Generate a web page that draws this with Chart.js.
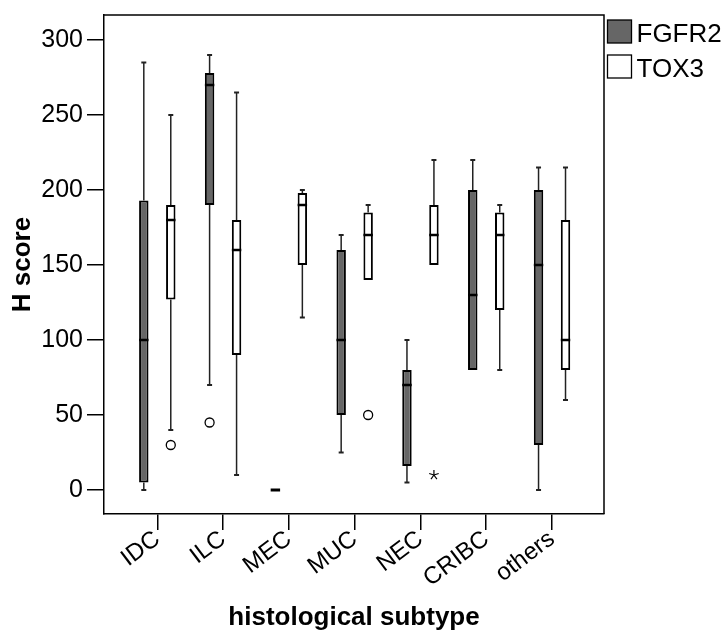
<!DOCTYPE html>
<html>
<head>
<meta charset="utf-8">
<script src="https://cdn.jsdelivr.net/npm/chart.js@4/dist/chart.umd.min.js"></script>
<style>
html,body{margin:0;padding:0;background:#fff;}
#wrap{width:727px;height:633px;position:relative;}
</style>
</head>
<body>
<div id="wrap"><canvas id="c" width="727" height="633"></canvas></div>
<script>
const categories = ['IDC','ILC','MEC','MUC','NEC','CRIBC','others'];
const yTickValues = [0,50,100,150,200,250,300];

const fgfr2Min    = [0,   70,  0,  25,  5,   80,  0];
const fgfr2Q1     = [5,   190, 0,  50,  16,  80,  30];
const fgfr2Median = [100, 270, 0,  100, 70,  130, 150];
const fgfr2Q3     = [193, 278, 0,  160, 80,  200, 200];
const fgfr2Max    = [285, 290, 0,  170, 100, 220, 215];
const fgfr2Outliers = [[], [45], [], [], [], [], []];
const fgfr2Extremes = [[], [], [], [], [], [], []];

const tox3Min    = [40,  10,  115, 140, 150, 80,  60];
const tox3Q1     = [127, 90,  150, 140, 150, 120, 80];
const tox3Median = [180, 160, 190, 170, 170, 170, 100];
const tox3Q3     = [190, 180, 198, 185, 190, 185, 180];
const tox3Max    = [250, 265, 200, 190, 220, 190, 215];
const tox3Outliers = [[30], [], [], [50], [], [], []];
const tox3Extremes = [[], [], [], [], [10], [], []];

const FONT = "'Liberation Sans', Arial, sans-serif";

const series = [
  {label:'FGFR2', min:fgfr2Min, q1:fgfr2Q1, med:fgfr2Median, q3:fgfr2Q3, max:fgfr2Max, out:fgfr2Outliers, ext:fgfr2Extremes, fill:'#666666'},
  {label:'TOX3',  min:tox3Min,  q1:tox3Q1,  med:tox3Median,  q3:tox3Q3,  max:tox3Max,  out:tox3Outliers,  ext:tox3Extremes,  fill:'#ffffff'}
];

const datasets = series.map(s => ({
  label: s.label,
  data: categories.map((c, i) => ({x: i, y: [s.q1[i], s.q3[i]]})),
  backgroundColor: s.fill,
  borderColor: '#000',
  borderWidth: 2,
  borderSkipped: false,
  categoryPercentage: 0.82,
  barPercentage: 0.35
}));

const boxPlugin = {
  id: 'boxExtras',
  afterDatasetsDraw(chart) {
    const ctx = chart.ctx;
    const y = chart.scales.y;
    series.forEach((s, d) => {
      const meta = chart.getDatasetMeta(d);
      meta.data.forEach((el, i) => {
        const x = el.x;
        const w = el.width;
        const py = v => y.getPixelForValue(v);
        ctx.save();
        ctx.strokeStyle = '#222';
        ctx.lineWidth = 1.5;
        if (s.max[i] > s.q3[i]) {
          ctx.beginPath(); ctx.moveTo(x, py(s.q3[i])); ctx.lineTo(x, py(s.max[i])); ctx.stroke();
          ctx.lineWidth = 2;
          ctx.beginPath(); ctx.moveTo(x-2.5, py(s.max[i])); ctx.lineTo(x+2.5, py(s.max[i])); ctx.stroke();
          ctx.lineWidth = 1.5;
        }
        if (s.min[i] < s.q1[i]) {
          ctx.beginPath(); ctx.moveTo(x, py(s.q1[i])); ctx.lineTo(x, py(s.min[i])); ctx.stroke();
          ctx.lineWidth = 2;
          ctx.beginPath(); ctx.moveTo(x-2.5, py(s.min[i])); ctx.lineTo(x+2.5, py(s.min[i])); ctx.stroke();
        }
        ctx.strokeStyle = '#000';
        ctx.lineWidth = (s.q1[i] === s.q3[i]) ? 3 : 2.5;
        ctx.beginPath(); ctx.moveTo(x - w/2, py(s.med[i])); ctx.lineTo(x + w/2, py(s.med[i])); ctx.stroke();
        ctx.lineWidth = 1.3;
        s.out[i].forEach(v => {
          ctx.beginPath(); ctx.arc(x, py(v), 4.5, 0, Math.PI*2);
          ctx.fillStyle = '#fff'; ctx.fill(); ctx.stroke();
        });
        s.ext[i].forEach(v => {
          const cy = py(v), r = 5;
          ctx.lineWidth = 1.2;
          for (let k = 0; k < 5; k++) {
            const a = -Math.PI/2 + k * 2*Math.PI/5;
            ctx.beginPath(); ctx.moveTo(x, cy); ctx.lineTo(x + r*Math.cos(a), cy + r*Math.sin(a)); ctx.stroke();
          }
        });
        ctx.restore();
      });
    });
  },
  afterDraw(chart) {
    const ctx = chart.ctx;
    const a = chart.chartArea;
    ctx.save();
    ctx.strokeStyle = '#000';
    ctx.lineWidth = 1.5;
    ctx.beginPath();
    ctx.moveTo(a.left, a.top); ctx.lineTo(a.right, a.top); ctx.lineTo(a.right, a.bottom);
    ctx.stroke();
    ctx.font = '26px ' + FONT;
    ctx.textBaseline = 'alphabetic';
    ctx.textAlign = 'left';
    series.forEach((s, d) => {
      const top = 20 + d * 35;
      const left = a.right + 3.5;
      ctx.fillStyle = s.fill;
      ctx.fillRect(left, top, 24, 23);
      ctx.strokeStyle = '#000';
      ctx.lineWidth = 1.3;
      ctx.strokeRect(left, top, 24, 23);
      ctx.fillStyle = '#000';
      ctx.fillText(s.label, left + 29, top + 22);
    });
    ctx.restore();
  }
};

new Chart(document.getElementById('c'), {
  type: 'bar',
  data: { datasets },
  options: {
    responsive: false,
    animation: false,
    layout: { padding: { left: 4, right: 123, top: 15, bottom: 0 } },
    plugins: { legend: { display: false }, tooltip: { enabled: false } },
    scales: {
      x: {
        type: 'linear',
        min: -0.81, max: 6.79,
        offset: false,
        afterBuildTicks: sc => { sc.ticks = categories.map((c, i) => ({value: i})); },
        afterFit: sc => { sc.height = 119; sc.paddingLeft = 0; sc.paddingRight = 0; },
        grid: { display: true, offset: false, drawOnChartArea: false, drawTicks: true, tickLength: 16, color: '#000', lineWidth: 1.5 },
        border: { display: true, color: '#000', width: 1.5 },
        ticks: {
          autoSkip: false, maxRotation: 37, minRotation: 37, padding: -5,
          color: '#000', font: { family: FONT, size: 24 },
          callback: v => categories[v]
        },
        title: { display: true, text: 'histological subtype', color: '#000', font: { family: FONT, size: 26, weight: 'bold' }, padding: { top: 0, bottom: 0 } }
      },
      y: {
        min: -16, max: 316.67,
        afterBuildTicks: sc => { sc.ticks = yTickValues.map(v => ({value: v})); },
        afterFit: sc => { sc.width = 100; sc.paddingTop = 0; sc.paddingBottom = 0; },
        grid: { display: true, drawOnChartArea: false, drawTicks: true, tickLength: 17, color: '#000', lineWidth: 1.5 },
        border: { display: true, color: '#000', width: 1.5 },
        ticks: { padding: 4, color: '#000', font: { family: FONT, size: 25 }, callback: v => String(v) },
        title: { display: true, text: 'H score', color: '#000', font: { family: FONT, size: 26, weight: 'bold' }, padding: { top: 3, bottom: 0 } }
      }
    }
  },
  plugins: [boxPlugin]
});
</script>
</body>
</html>
